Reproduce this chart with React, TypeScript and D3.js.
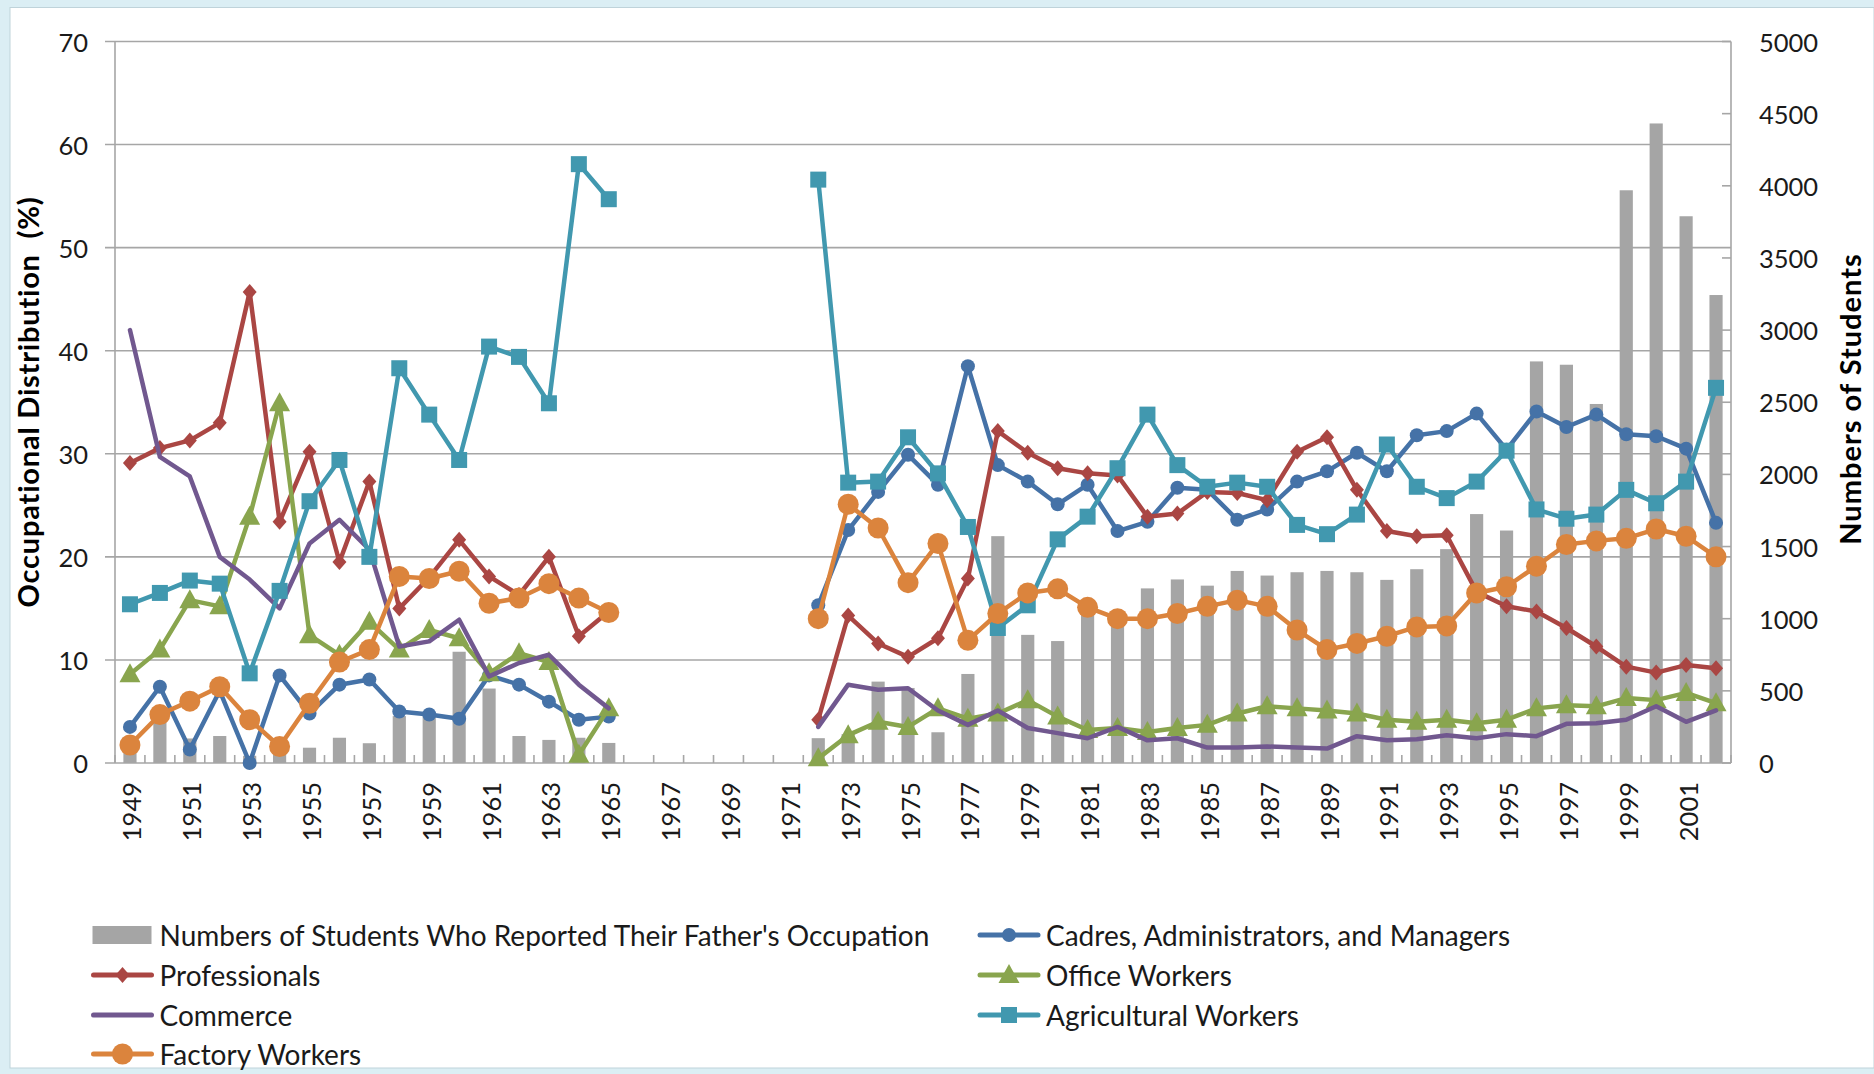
import React from "react";
import * as d3 from "d3";

const years = [
  "1949","1950","1951","1952","1953","1954","1955","1956","1957","1958","1959","1960","1961","1962","1963","1964","1965",
  "1966","1967","1968","1969","1970","1971",
  "1972","1973","1974","1975","1976","1977","1978","1979","1980","1981","1982","1983","1984","1985","1986","1987","1988","1989",
  "1990","1991","1992","1993","1994","1995","1996","1997","1998","1999","2000","2001","2002",
];

const students = [
  80, 290, 170, 187, 50, 90, 106, 175, 137, 325, 318, 771, 516, 187, 160, 175, 139,
  null, null, null, null, null, null,
  172, 200, 564, 520, 213, 617, 1572, 888, 845, 1060, 1000, 1210, 1272, 1229, 1331, 1299, 1322, 1331,
  1322, 1269, 1343, 1482, 1725, 1611, 2783, 2760, 2488, 3969, 4432, 3789, 3243,
];

const cadres = [
  3.5, 7.4, 1.3, 7.0, 0, 8.5, 4.8, 7.6, 8.1, 5.0, 4.7, 4.3, 8.5, 7.6, 5.95, 4.2, 4.5,
  null, null, null, null, null, null,
  15.3, 22.6, 26.3, 29.9, 27.0, 38.5, 28.9, 27.3, 25.1, 27.0, 22.5, 23.4, 26.7, 26.5, 23.6, 24.6, 27.3, 28.3,
  30.1, 28.3, 31.8, 32.2, 33.9, 30.4, 34.1, 32.6, 33.8, 31.9, 31.7, 30.5, 23.3,
];

const professionals = [
  29.1, 30.55, 31.3, 33.0, 45.7, 23.4, 30.2, 19.5, 27.3, 15.0, 18.0, 21.65, 18.1, 16.3, 20.0, 12.3, 14.7,
  null, null, null, null, null, null,
  4.2, 14.3, 11.6, 10.3, 12.1, 17.9, 32.2, 30.1, 28.6, 28.1, 27.9, 23.9, 24.2, 26.3, 26.2, 25.5, 30.2, 31.6,
  26.5, 22.5, 22.0, 22.1, 16.6, 15.2, 14.7, 13.1, 11.3, 9.35, 8.77, 9.5, 9.2,
];

const officeWorkers = [
  8.6, 11.0, 15.8, 15.2, 23.9, 34.9, 12.4, 10.5, 13.7, 11.0, 12.9, 12.1, 8.7, 10.65, 9.8, 0.8, 5.3,
  null, null, null, null, null, null,
  0.45, 2.7, 4.0, 3.5, 5.3, 4.3, 4.8, 6.1, 4.5, 3.2, 3.4, 3.0, 3.4, 3.7, 4.8, 5.5, 5.3, 5.1,
  4.8, 4.2, 4.0, 4.2, 3.85, 4.2, 5.3, 5.6, 5.5, 6.3, 6.1, 6.8, 5.8,
];

const commerce = [
  42.0, 29.7, 27.8, 20.0, 17.8, 15.0, 21.3, 23.6, 20.7, 11.3, 11.8, 13.9, 8.4, 9.7, 10.5, 7.6, 5.3,
  null, null, null, null, null, null,
  3.5, 7.6, 7.1, 7.25, 5.1, 3.7, 5.1, 3.4, 2.9, 2.4, 3.5, 2.2, 2.4, 1.5, 1.5, 1.6, 1.5, 1.4,
  2.6, 2.2, 2.3, 2.7, 2.4, 2.8, 2.6, 3.8, 3.85, 4.2, 5.5, 4.0, 5.1,
];

const agricultural = [
  15.4, 16.5, 17.7, 17.4, 8.7, 16.7, 25.4, 29.4, 20.0, 38.3, 33.8, 29.4, 40.4, 39.4, 34.9, 58.1, 54.7,
  null, null, null, null, null, null,
  56.6, 27.2, 27.3, 31.6, 28.1, 22.9, 13.1, 15.3, 21.7, 23.9, 28.6, 33.8, 28.9, 26.8, 27.2, 26.8, 23.1, 22.2,
  24.1, 30.9, 26.8, 25.7, 27.3, 30.3, 24.6, 23.7, 24.1, 26.5, 25.2, 27.3, 36.4,
];

const factory = [
  1.75, 4.7, 6.0, 7.4, 4.2, 1.6, 5.8, 9.8, 11.0, 18.1, 17.9, 18.6, 15.5, 16.0, 17.4, 16.0, 14.6,
  null, null, null, null, null, null,
  14.0, 25.1, 22.8, 17.5, 21.3, 11.9, 14.5, 16.5, 16.9, 15.1, 14.0, 14.0, 14.5, 15.2, 15.8, 15.2, 12.9, 11.0,
  11.6, 12.3, 13.2, 13.3, 16.5, 17.1, 19.1, 21.2, 21.55, 21.8, 22.7, 22.0, 20.0,
];

const leftTicks = [0, 10, 20, 30, 40, 50, 60, 70];
const rightTicks = [0, 500, 1000, 1500, 2000, 2500, 3000, 3500, 4000, 4500, 5000];

const barLabel = "Numbers of Students Who Reported Their Father's Occupation";
const leftTitle = "Occupational Distribution  (%)";
const rightTitle = "Numbers of Students";

type Series = { name: string; values: (number | null)[]; color: string; marker: string };
const series: Series[] = [
  { name: "Cadres, Administrators, and Managers", values: cadres, color: "#4572A7", marker: "circle" },
  { name: "Professionals", values: professionals, color: "#AA4643", marker: "diamond" },
  { name: "Office Workers", values: officeWorkers, color: "#89A54E", marker: "triangle" },
  { name: "Commerce", values: commerce, color: "#71588F", marker: "none" },
  { name: "Agricultural Workers", values: agricultural, color: "#4198AF", marker: "square" },
  { name: "Factory Workers", values: factory, color: "#DB843D", marker: "bigcircle" },
];

const FONT = "Lato, 'Open Sans', 'DejaVu Sans', sans-serif";

function Marker({ kind, x, y, color }: { kind: string; x: number; y: number; color: string }) {
  if (kind === "circle") return <circle cx={x} cy={y} r={7} fill={color} />;
  if (kind === "bigcircle") return <circle cx={x} cy={y} r={10.5} fill={color} />;
  if (kind === "square") return <rect x={x - 8} y={y - 8} width={16} height={16} fill={color} />;
  if (kind === "diamond")
    return <path d={`M${x},${y - 8}L${x + 7},${y}L${x},${y + 8}L${x - 7},${y}Z`} fill={color} />;
  if (kind === "triangle")
    return <path d={`M${x},${y - 11}L${x + 10.5},${y + 8}L${x - 10.5},${y + 8}Z`} fill={color} />;
  return null;
}

export default function App() {
  const W = 1874, H = 1074;
  const left = 115, right = 1731, top = 41.5, bottom = 763;

  const x = d3.scaleBand<string>().domain(years).range([left, right]).padding(0);
  const bw = x.bandwidth();
  const cx = (i: number) => (x(years[i]) as number) + bw / 2;
  const yL = d3.scaleLinear().domain([0, 70]).range([bottom, top]);
  const yR = d3.scaleLinear().domain([0, 5000]).range([bottom, top]);
  const barW = bw * 0.44;

  const line = d3
    .line<number | null>()
    .defined((d) => d != null)
    .x((_, i) => cx(i))
    .y((d) => yL(d as number));

  const gridColor = "#A6A6A6";
  const textColor = "#1a1a1a";

  const legendItems = [
    { col: 0, row: 0, type: "bar" as const, name: barLabel },
    { col: 1, row: 0, s: series[0] },
    { col: 0, row: 1, s: series[1] },
    { col: 1, row: 1, s: series[2] },
    { col: 0, row: 2, s: series[3] },
    { col: 1, row: 2, s: series[4] },
    { col: 0, row: 3, s: series[5] },
  ];
  const legRowY = [935, 975, 1015, 1054];
  const legColX = [92.5, 979];

  return (
    <svg
      width={W}
      height={H}
      style={{ position: "absolute", left: 0, top: 0, fontFamily: FONT }}
    >
      <rect x={0} y={0} width={W} height={H} fill="#DBEEF4" />
      <rect x={10} y={7.5} width={W - 10} height={1060.5} fill="#FFFFFF" stroke="#BFD3DA" strokeWidth={1} />

      {/* gridlines */}
      {leftTicks.map((t) => (
        <line key={"g" + t} x1={left - 10} x2={right} y1={yL(t)} y2={yL(t)} stroke={gridColor} strokeWidth={1.6} />
      ))}
      {/* axes */}
      <line x1={left} x2={left} y1={top} y2={bottom} stroke={gridColor} strokeWidth={1.6} />
      <line x1={right} x2={right} y1={top} y2={bottom} stroke={gridColor} strokeWidth={1.6} />
      {rightTicks.map((t) => (
        <line key={"rt" + t} x1={right - 9} x2={right} y1={yR(t)} y2={yR(t)} stroke={gridColor} strokeWidth={1.6} />
      ))}
      {years.map((yr) => (
        <line key={"xt" + yr} x1={x(yr) as number} x2={x(yr) as number} y1={bottom} y2={bottom - 8} stroke={gridColor} strokeWidth={1.6} />
      ))}
      <line x1={right} x2={right} y1={bottom} y2={bottom - 8} stroke={gridColor} strokeWidth={1.6} />

      {/* bars */}
      {students.map((v, i) =>
        v == null ? null : (
          <rect key={"b" + i} x={cx(i) - barW / 2} y={yR(v)} width={barW} height={bottom - yR(v)} fill="#A5A5A5" />
        )
      )}

      {/* lines */}
      {series.map((s) => (
        <g key={s.name}>
          <path d={line(s.values) as string} fill="none" stroke={s.color} strokeWidth={4.5} strokeLinejoin="round" strokeLinecap="round" />
          {s.values.map((v, i) =>
            v == null ? null : <Marker key={i} kind={s.marker} x={cx(i)} y={yL(v)} color={s.color} />
          )}
        </g>
      ))}

      {/* left tick labels */}
      {leftTicks.map((t) => (
        <text key={"lt" + t} x={88} y={yL(t)} textAnchor="end" dominantBaseline="central" fontSize={25.5} fill={textColor}>
          {t}
        </text>
      ))}
      {/* right tick labels */}
      {rightTicks.map((t) => (
        <text key={"rl" + t} x={1759} y={yR(t)} textAnchor="start" dominantBaseline="central" fontSize={25.5} fill={textColor}>
          {t}
        </text>
      ))}
      {/* x labels */}
      {years.map((yr, i) =>
        i % 2 === 0 ? (
          <text
            key={"xl" + yr}
            transform={`translate(${cx(i) + 1.5},${bottom + 19}) rotate(-90)`}
            textAnchor="end"
            dominantBaseline="central"
            fontSize={25.5}
            fill={textColor}
          >
            {yr}
          </text>
        ) : null
      )}

      {/* axis titles */}
      <text
        transform={`translate(27,402) rotate(-90)`}
        textAnchor="middle"
        dominantBaseline="central"
        fontSize={29}
        letterSpacing={0.8}
        fontWeight="bold"
        fill="#000"
        style={{ whiteSpace: "pre" }}
      >
        {leftTitle}
      </text>
      <text
        transform={`translate(1849,399) rotate(-90)`}
        textAnchor="middle"
        dominantBaseline="central"
        fontSize={29}
        letterSpacing={1}
        fontWeight="bold"
        fill="#000"
      >
        {rightTitle}
      </text>

      {/* legend */}
      {legendItems.map((it, k) => {
        const lx = legColX[it.col];
        const ly = legRowY[it.row];
        if ("type" in it) {
          return (
            <g key={"lg" + k}>
              <rect x={lx} y={ly - 9} width={59} height={18} fill="#A5A5A5" />
              <text x={lx + 67} y={ly} dominantBaseline="central" fontSize={28} fill={textColor}>
                {it.name}
              </text>
            </g>
          );
        }
        const s = it.s!;
        return (
          <g key={"lg" + k}>
            <line x1={lx + 1} x2={lx + 59} y1={ly} y2={ly} stroke={s.color} strokeWidth={5} strokeLinecap="round" />
            <Marker kind={s.marker} x={lx + 30} y={ly} color={s.color} />
            <text x={lx + 67} y={ly} dominantBaseline="central" fontSize={28} fill={textColor}>
              {s.name}
            </text>
          </g>
        );
      })}
    </svg>
  );
}
